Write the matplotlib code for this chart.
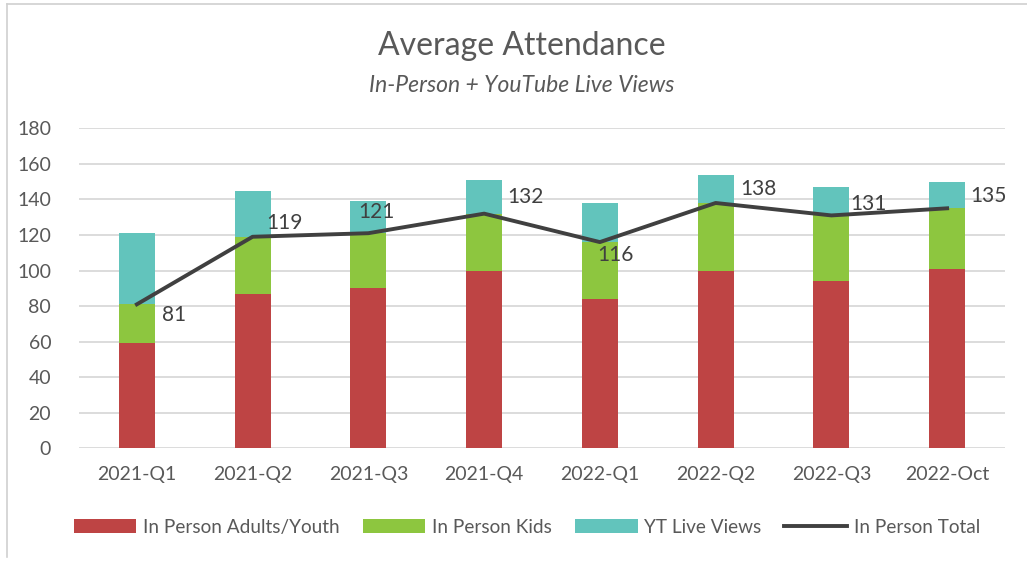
import matplotlib.pyplot as plt
import numpy as np

# %% data
quarters = ["2021-Q1", "2021-Q2", "2021-Q3", "2021-Q4",
            "2022-Q1", "2022-Q2", "2022-Q3", "2022-Oct"]
adults_youth = [59, 87, 90, 100, 84, 100, 94, 101]
kids = [22, 32, 31, 32, 32, 38, 37, 34]
yt_live = [40, 26, 18, 19, 22, 16, 16, 15]
in_person_total = [81, 119, 121, 132, 116, 138, 131, 135]

# label offsets in points (dx, dy)
label_offsets = [(27, -8), (23, 10), (6, 15), (30, 12), (11, -9), (31, 10), (27, 8), (30, 9)]

# %% plot
plt.rcParams['font.family'] = ['Lato', 'DejaVu Sans']
txt = '#595959'

fig = plt.figure(figsize=(10.27, 5.63), dpi=100)
ax = fig.add_axes([0.0769, 0.2037, 0.9017, 0.5684])

x = np.arange(len(quarters))
w = 0.31
red, green, teal = '#BE4444', '#8DC63F', '#62C4BC'
bottom2 = np.array(adults_youth) + np.array(kids)

b1 = ax.bar(x, adults_youth, w, color=red, label='In Person Adults/Youth', zorder=2)
b2 = ax.bar(x, kids, w, bottom=adults_youth, color=green, label='In Person Kids', zorder=2)
b3 = ax.bar(x, yt_live, w, bottom=bottom2, color=teal, label='YT Live Views', zorder=2)
ln, = ax.plot(x, in_person_total, color='#404040', lw=2.8, label='In Person Total', zorder=3)

for xi, v, (dx, dy) in zip(x, in_person_total, label_offsets):
    ax.annotate(str(v), (xi, v), xytext=(dx, dy), textcoords='offset points',
                ha='center', va='center', fontsize=15, color='#404040', zorder=4)

ax.set_xlim(-0.5, len(quarters) - 0.5)
ax.set_ylim(0, 180)
ax.set_yticks(range(0, 181, 20))
ax.set_xticks(x)
ax.set_xticklabels(quarters)
ax.tick_params(length=0, labelsize=14, colors=txt)
ax.tick_params(axis='y', pad=20)
ax.tick_params(axis='x', pad=13)
ax.grid(axis='y', color='#D9D9D9', lw=1.3, zorder=0)
for s in ax.spines.values():
    s.set_visible(False)

fig.text(0.508, 0.918, 'Average Attendance', ha='center', va='center',
         fontsize=23, color=txt)
fig.text(0.508, 0.849, 'In-Person + YouTube Live Views', ha='center', va='center',
         fontsize=16.5, style='italic', color=txt)

fig.legend(handles=[b1, b2, b3, ln], loc='center', bbox_to_anchor=(0.513, 0.063),
           ncol=4, frameon=False, fontsize=13.7, labelcolor=txt, handlelength=3.3,
           handleheight=0.75, columnspacing=1.2, handletextpad=0.35)

# chart frame
fig.add_artist(plt.Line2D([0.007, 0.007], [0.01, 0.993], color='#D0D0D0', lw=1.2))
fig.add_artist(plt.Line2D([0.007, 1.0], [0.993, 0.993], color='#D0D0D0', lw=1.2))

fig.savefig('out.png', dpi=100)
